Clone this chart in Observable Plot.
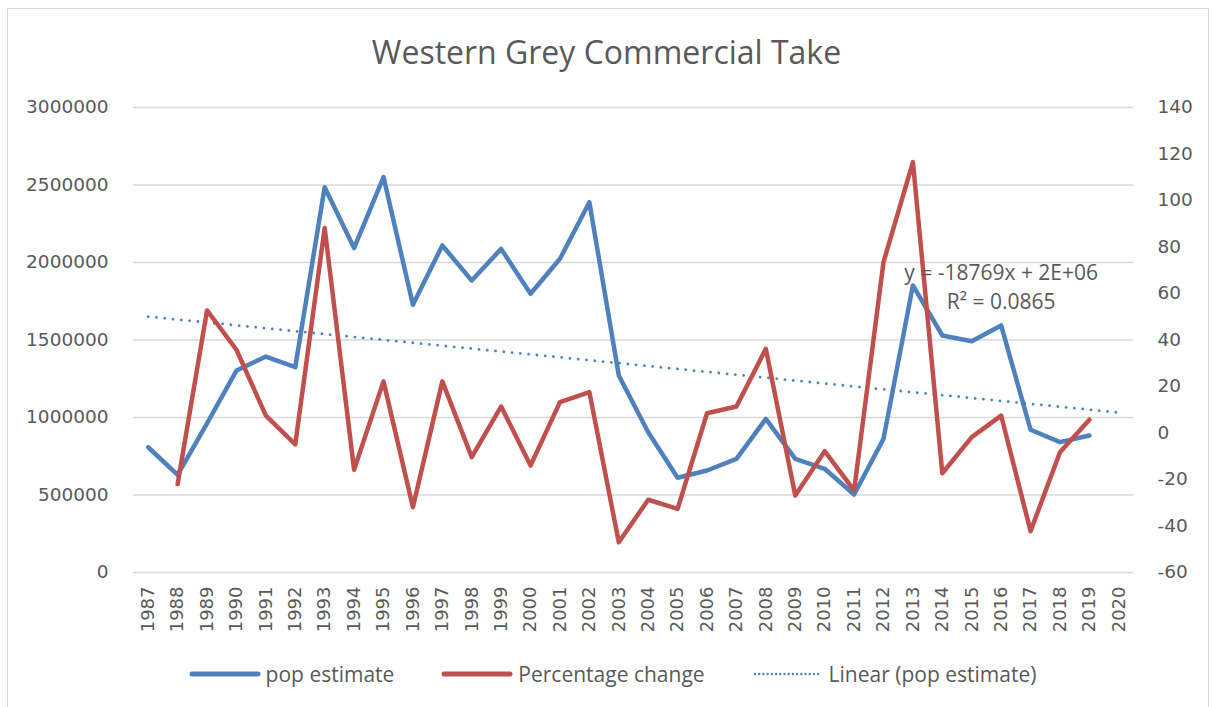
<!DOCTYPE html>
<html>
<head>
<meta charset="utf-8">
<script src="https://cdn.jsdelivr.net/npm/d3@7"></script>
<script src="https://cdn.jsdelivr.net/npm/@observablehq/plot@0.6"></script>
<style>
  html, body { margin: 0; padding: 0; background: #fff; overflow: hidden; }
  #wrap { position: relative; width: 1213px; height: 707px; font-family: "Open Sans", sans-serif; color: #595959; }
  #frame { position: absolute; left: 7px; top: 8px; width: 1200px; height: 720px; border: 1.5px solid #d9d9d9; pointer-events: none; }
  #title { height: 80px; box-sizing: border-box; padding-top: 30px; text-align: center; font-size: 32px; line-height: 44px; }
  #legend { height: 67px; display: flex; align-items: center; justify-content: center; padding-left: 12px; font-size: 21px; }
  .item { display: flex; align-items: center; margin: 0 23.5px; }
  .item svg { margin-right: 5px; }
</style>
</head>
<body>
<div id="wrap">
  <div id="title">Western Grey Commercial Take</div>
  <div id="chart"></div>
  <div id="legend"></div>
  <div id="frame"></div>
</div>
<script>
// ---- data ----
const years = [1987,1988,1989,1990,1991,1992,1993,1994,1995,1996,1997,1998,1999,2000,2001,2002,2003,2004,2005,2006,2007,2008,2009,2010,2011,2012,2013,2014,2015,2016,2017,2018,2019,2020];
const popYears = [1987,1988,1989,1990,1991,1992,1993,1994,1995,1996,1997,1998,1999,2000,2001,2002,2003,2004,2005,2006,2007,2008,2009,2010,2011,2012,2013,2014,2015,2016,2017,2018,2019];
const popEstimate = [808000,630000,962000,1303000,1393000,1325000,2486000,2093000,2551000,1727000,2110000,1884000,2088000,1798000,2024000,2389000,1271000,905000,611000,658000,733000,991000,733000,669000,503000,862000,1852000,1529000,1492000,1594000,921000,841000,884000];
const pctYears = [1988,1989,1990,1991,1992,1993,1994,1995,1996,1997,1998,1999,2000,2001,2002,2003,2004,2005,2006,2007,2008,2009,2010,2011,2012,2013,2014,2015,2016,2017,2018,2019];
const pctChange = [-22,52.7,35.8,7.5,-4.9,88.2,-15.8,22.2,-31.9,22.2,-10.4,11.4,-14,13.3,17.6,-47,-28.7,-32.6,8.5,11.4,36.2,-26.9,-7.8,-24.7,73.5,116.5,-17.3,-1.8,7.5,-42.2,-8.3,5.7];
const trendYears = [1987, 2020];
const trendValues = [1651000, 1032000];
const leftTicks = [0,500000,1000000,1500000,2000000,2500000,3000000];
const rightTicks = [-60,-40,-20,0,20,40,60,80,100,120,140];
const equationLines = ["y = -18769x + 2E+06", "R² = 0.0865"];
const equationYear = [2016, 2016];
const equationValue = [1890000, 1700000];

// secondary axis (-60..140) mapped onto primary (0..3,000,000)
const toPrimary = p => (p + 60) * 15000;
const fromPrimary = v => v / 15000 - 60;

const popData = popYears.map((y, i) => ({year: y, value: popEstimate[i]}));
const pctData = pctYears.map((y, i) => ({year: y, value: pctChange[i]}));
const trendData = trendYears.map((y, i) => ({year: y, value: trendValues[i]}));
const eqData = equationLines.map((t, i) => ({text: t, year: equationYear[i], value: equationValue[i]}));

const BLUE = "#4f81bd", RED = "#c0504d", GRID = "#d9d9d9";
const TICKFONT = "DejaVu Sans, sans-serif";

const chart = Plot.plot({
  width: 1213,
  height: 560,
  marginTop: 27,
  marginBottom: 68,
  marginLeft: 133,
  marginRight: 80,
  style: {fontFamily: "Open Sans, sans-serif", color: "#595959", background: "transparent", overflow: "visible"},
  x: {type: "point", domain: years, padding: 0.5, round: false, label: null},
  y: {domain: [0, 3000000], label: null},
  marks: [
    Plot.ruleY(leftTicks, {stroke: GRID, strokeWidth: 1.3}),
    Plot.axisY(leftTicks, {anchor: "left", label: null, tickSize: 0, tickPadding: 25, tickFormat: d => String(d), fontSize: 18.5, fontFamily: TICKFONT}),
    Plot.axisY(rightTicks.map(toPrimary), {anchor: "right", label: null, tickSize: 0, tickPadding: 24, textAnchor: "start", tickFormat: d => String(Math.round(fromPrimary(d))), fontSize: 18.5, fontFamily: TICKFONT}),
    Plot.axisX(years, {label: null, tickRotate: -90, tickSize: 0, tickPadding: 14, tickFormat: d => String(d), fontSize: 18, fontFamily: TICKFONT}),
    Plot.line(popData, {x: "year", y: "value", stroke: BLUE, strokeWidth: 4.5, strokeLinejoin: "round", strokeLinecap: "round"}),
    Plot.line(trendData, {x: "year", y: "value", stroke: BLUE, strokeWidth: 2.8, strokeDasharray: "0.01 8.3", strokeLinecap: "round"}),
    Plot.line(pctData, {x: "year", y: d => toPrimary(d.value), stroke: RED, strokeWidth: 4.5, strokeLinejoin: "round", strokeLinecap: "round"}),
    Plot.text(eqData, {x: "year", y: "value", text: "text", textAnchor: "middle", lineAnchor: "bottom", fontSize: 21, fill: "#595959"})
  ]
});
document.getElementById("chart").appendChild(chart);

// ---- legend ----
const legendItems = [
  {label: "pop estimate", color: BLUE, dash: null, width: 5},
  {label: "Percentage change", color: RED, dash: null, width: 5},
  {label: "Linear (pop estimate)", color: BLUE, dash: "0.01 4.2", width: 2.4}
];
const legend = document.getElementById("legend");
for (const it of legendItems) {
  const div = document.createElement("div");
  div.className = "item";
  div.innerHTML = `<svg width="72" height="10"><line x1="3" y1="5" x2="69" y2="5" stroke="${it.color}" stroke-width="${it.width}" stroke-linecap="round" ${it.dash ? `stroke-dasharray="${it.dash}"` : ""}/></svg><span>${it.label}</span>`;
  legend.appendChild(div);
}
</script>
</body>
</html>
